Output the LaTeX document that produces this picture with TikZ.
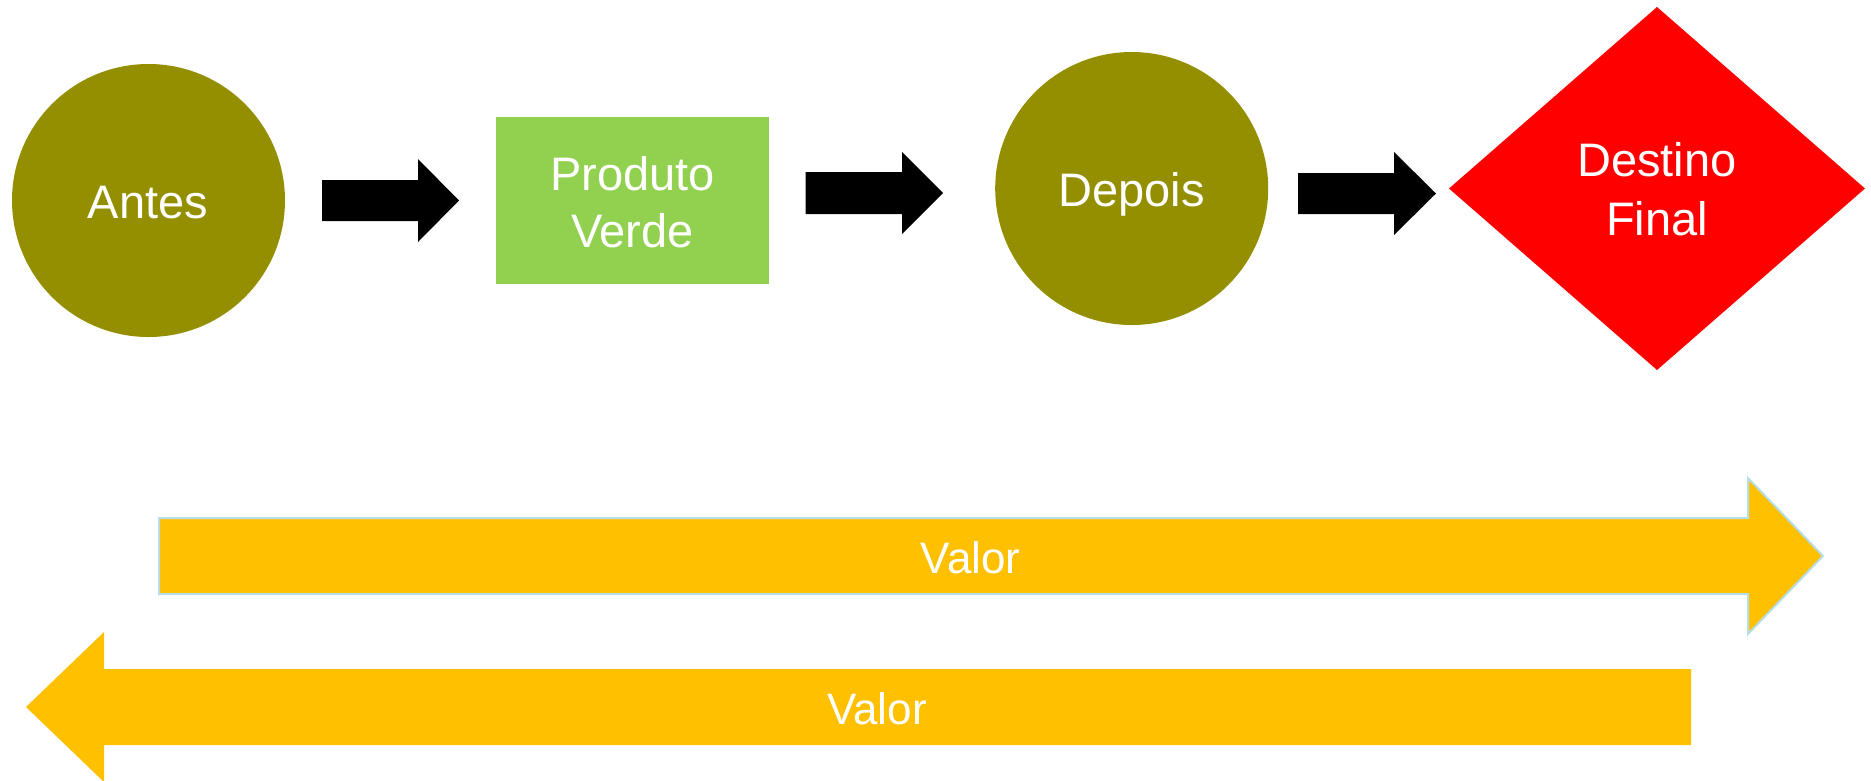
\documentclass[tikz,border=0pt]{standalone}
\usepackage{fontspec}
\setmainfont{Liberation Sans}
\definecolor{oliveA}{HTML}{948F00}
\definecolor{greenA}{HTML}{92D050}
\definecolor{redA}{HTML}{FF0000}
\definecolor{goldA}{HTML}{FFC000}
\definecolor{edgeA}{HTML}{B7DEE8}
\begin{document}
\begin{tikzpicture}[x=1pt,y=-1pt,
  lbl/.style={text=white, font=\fontsize{47}{56}\selectfont, inner sep=0, anchor=base},
  vlbl/.style={text=white, font=\fontsize{44}{52}\selectfont, inner sep=0, anchor=base},
  blk/.style={fill=black},
  gold/.style={fill=goldA}]
\useasboundingbox (0,0) rectangle (1871,780);
% shapes
\node[circle, fill=oliveA, minimum size=273pt, inner sep=0] (antesC) at (148.5,200.5) {};
\node[rectangle, fill=greenA, minimum width=273pt, minimum height=167pt, inner sep=0] (prodR) at (632.5,200.5) {};
\node[circle, fill=oliveA, minimum size=273pt, inner sep=0] (depoisC) at (1131.7,188.5) {};
\fill[redA] (1449,188.5) coordinate (dL) -- (1657,7) coordinate (dT) -- (1865,188.5) coordinate (dR) -- (1657,370) coordinate (dB) -- cycle;
% black block arrows
\fill[blk] (322,180) -- (418,180) -- (418,159) -- (459,200.5) -- (418,242) -- (418,221) -- (322,221) -- cycle;
\fill[blk] (805.5,172) -- (902,172) -- (902,152) -- (943,193) -- (902,234) -- (902,214) -- (805.5,214) -- cycle;
\fill[blk] (1298,173) -- (1394,173) -- (1394,152) -- (1436,193.5) -- (1394,235) -- (1394,214) -- (1298,214) -- cycle;
% Valor arrows
\filldraw[gold, draw=edgeA, line width=2pt] (159,518) -- (1748,518) -- (1748,478) -- (1823,556) -- (1748,634) -- (1748,594) -- (159,594) -- cycle;
\fill[gold] (1691,669) -- (104,669) -- (104,632) -- (26,707) -- (104,782) -- (104,745) -- (1691,745) -- cycle;
% texts
\node[lbl] (antes) at (148,218.5) {Antes};
\node[lbl] (prod1) at (632.5,190) {Produto};
\node[lbl] (prod2) at (632.5,247) {Verde};
\node[lbl] (depois) at (1131.7,206.7) {Depois};
\node[lbl] (dest1) at (1657,176.7) {Destino};
\node[lbl] (dest2) at (1657,235.7) {Final};
\node[vlbl] (valor1) at (970.7,573.3) {Valor};
\node[vlbl] (valor2) at (877,724.5) {Valor};
\end{tikzpicture}
\end{document}
